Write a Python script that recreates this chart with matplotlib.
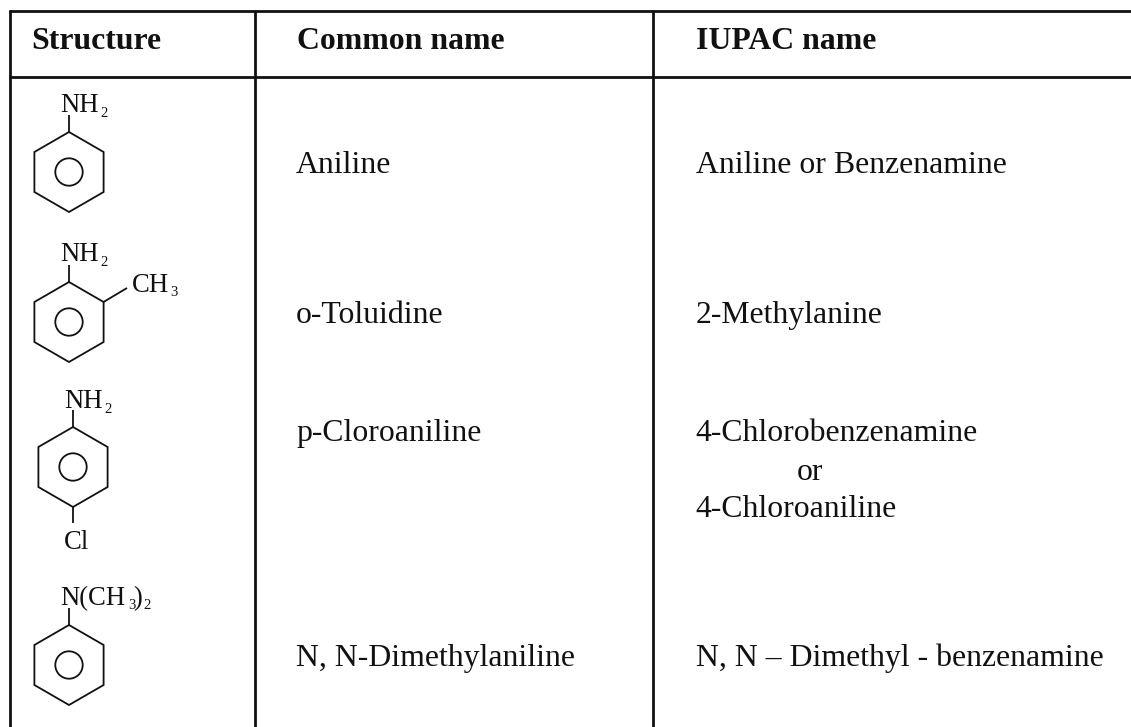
import matplotlib
matplotlib.use("Agg")
import matplotlib.pyplot as plt
from matplotlib.patches import Circle, Polygon

plt.rcParams['font.family'] = ['Liberation Serif', 'DejaVu Sans']

headers = ["Structure", "Common name", "IUPAC name"]
common_names = ["Aniline", "o-Toluidine", "p-Cloroaniline", "N, N-Dimethylaniline"]
iupac_names = ["Aniline or Benzenamine", "2-Methylanine", "4-Chlorobenzenamine", "4-Chloroaniline",
               "N, N – Dimethyl - benzenamine"]
W, H = 1131, 727
fig = plt.figure(figsize=(W/100, H/100), dpi=100)
ax = fig.add_axes([0, 0, 1, 1])
ax.set_xlim(0, W); ax.set_ylim(H, 0); ax.axis('off')
K = '#111111'
def line(x0, y0, x1, y1, lw=1.3):
    ax.plot([x0, x1], [y0, y1], color=K, lw=lw, solid_capstyle='butt')
line(9, 11, 1131, 11, 2.0); line(9, 76.5, 1131, 76.5, 2.0)
line(9.5, 10, 9.5, 727, 2.0); line(255, 10, 255, 727, 2.0)
line(652.5, 10, 652.5, 727, 2.0)

FS = 22.85
def t(x, y, s, fs=FS, **k):
    ax.text(x, y, s, fontsize=fs, color=K, va='baseline', ha='left', **k)
t(31, 49, headers[0], fontweight='bold')
t(297, 49, headers[1], fontweight='bold')
t(695.5, 49, headers[2], fontweight='bold')
for y, s in zip([173, 323, 441, 666], common_names):
    t(296, y, s)
t(695.5, 173, iupac_names[0]); t(695.5, 323, iupac_names[1])
t(695.5, 441, iupac_names[2]); t(797, 480, "or"); t(695.5, 517, iupac_names[3])
t(695.5, 666, iupac_names[4])

FM = 19.2
FB = 10.5
def ring(cx, cy):
    r = 40; dx = 34.6
    pts = [(cx, cy-r), (cx+dx, cy-r/2), (cx+dx, cy+r/2), (cx, cy+r), (cx-dx, cy+r/2), (cx-dx, cy-r/2)]
    ax.add_patch(Polygon(pts, closed=True, fill=False, ec=K, lw=1.3))
    ax.add_patch(Circle((cx, cy), 13.7, fill=False, ec=K, lw=1.3))
    line(cx, cy-r, cx, cy-r-17)
ring(69, 172)
t(60, 112, "NH", FM); t(100, 117, "2", FB)
ring(69, 322)
t(60, 261, "NH", FM); t(100, 266, "2", FB)
line(103.5, 302, 127, 288)
t(132, 292, "CH", FM); t(170, 296, "3", FB)
ring(73, 467)
t(64, 408, "NH", FM); t(104, 413, "2", FB)
line(73, 507, 73, 523)
t(64, 549, "Cl", FM)
ring(69, 665)
t(60, 605, "N(CH", FM); t(128, 609, "3", FB); t(133, 605, ")", FM); t(143, 609, "2", FB)
fig.savefig("out.png", dpi=100)
